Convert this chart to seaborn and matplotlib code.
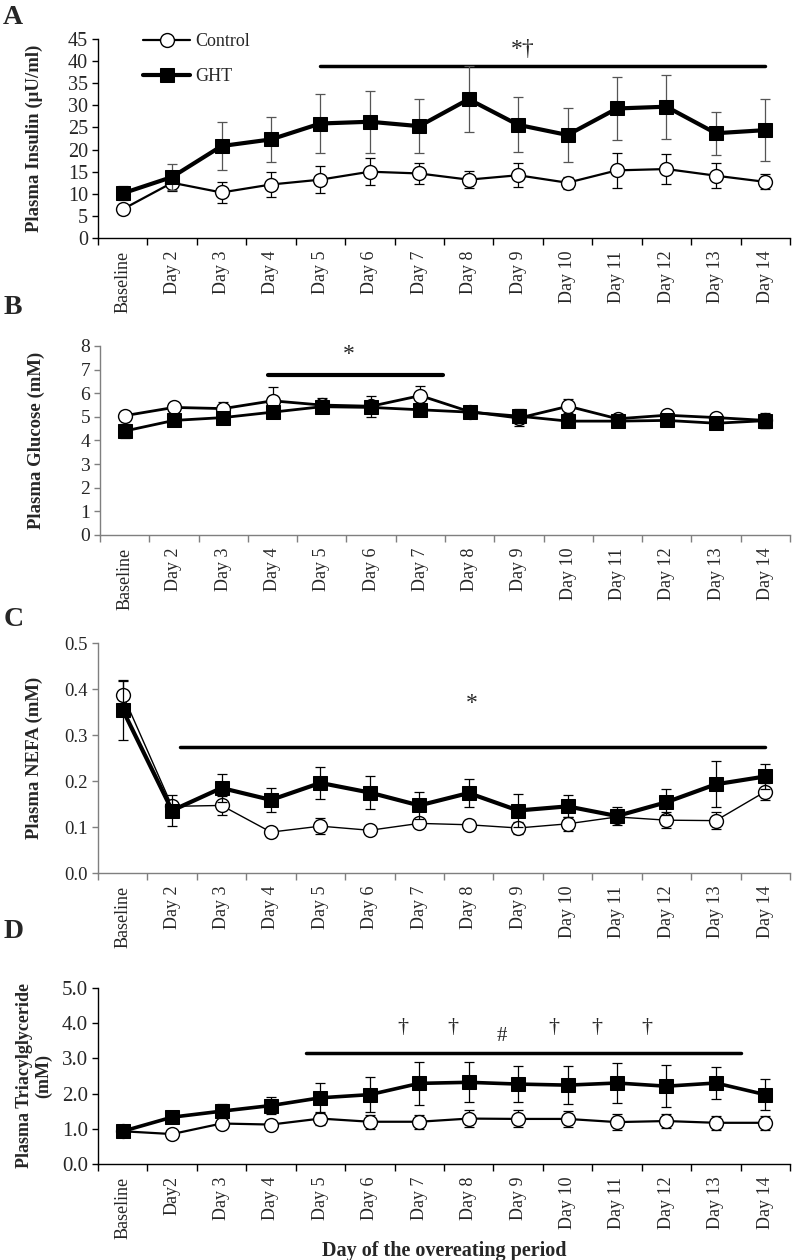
import numpy as np
import pandas as pd
import matplotlib
matplotlib.use('Agg')
import matplotlib.pyplot as plt
import seaborn as sns

# x categories
days = ['Baseline', 'Day 2', 'Day 3', 'Day 4', 'Day 5', 'Day 6', 'Day 7',
        'Day 8', 'Day 9', 'Day 10', 'Day 11', 'Day 12', 'Day 13', 'Day 14']
days_d = ['Baseline', 'Day2', 'Day 3', 'Day 4', 'Day 5', 'Day 6', 'Day 7',
          'Day 8', 'Day 9', 'Day 10', 'Day 11', 'Day 12', 'Day 13', 'Day 14']

# A - insulin (uU/ml)
ins_ctrl = [6.5, 12.5, 10.3, 12.1, 13.2, 15.0, 14.6, 13.2, 14.2, 12.5, 15.3, 15.6, 14.1, 12.7]
ins_ctrl_se = [1.0, 1.8, 2.3, 2.9, 3.1, 3.1, 2.3, 2.0, 2.7, 1.4, 4.0, 3.3, 2.9, 1.7]
ins_ght = [10.1, 13.8, 20.8, 22.3, 25.9, 26.3, 25.3, 31.4, 25.6, 23.3, 29.3, 29.7, 23.7, 24.4]
ins_ght_se = [1.6, 2.9, 5.5, 5.0, 6.6, 7.0, 6.1, 7.4, 6.2, 6.2, 7.2, 7.2, 4.9, 7.0]

# B - glucose (mM)
glu_ctrl = [5.05, 5.4, 5.35, 5.68, 5.5, 5.45, 5.9, 5.22, 4.95, 5.45, 4.92, 5.07, 4.97, 4.85]
glu_ctrl_se = [0.2, 0.15, 0.3, 0.6, 0.3, 0.45, 0.4, 0.2, 0.35, 0.3, 0.1, 0.12, 0.1, 0.3]
glu_ght = [4.4, 4.85, 4.97, 5.2, 5.43, 5.4, 5.3, 5.2, 5.03, 4.82, 4.82, 4.85, 4.73, 4.84]
glu_ght_se = [0.3, 0.2, 0.15, 0.25, 0.2, 0.2, 0.15, 0.15, 0.3, 0.15, 0.15, 0.15, 0.15, 0.3]

# C - NEFA (mM)
nefa_ctrl = [0.388, 0.145, 0.147, 0.089, 0.102, 0.093, 0.108, 0.105, 0.098, 0.107, 0.122, 0.115, 0.114, 0.177]
nefa_ctrl_se = [0.03, 0.012, 0.02, 0.01, 0.018, 0.006, 0.01, 0.01, 0.013, 0.015, 0.01, 0.017, 0.018, 0.018]
nefa_ght = [0.355, 0.136, 0.185, 0.159, 0.196, 0.175, 0.147, 0.174, 0.136, 0.145, 0.124, 0.154, 0.193, 0.21]
nefa_ght_se = [0.065, 0.033, 0.03, 0.027, 0.035, 0.035, 0.029, 0.03, 0.035, 0.024, 0.02, 0.028, 0.05, 0.028]

# D - triacylglyceride (mM)
tag_ctrl = [0.93, 0.85, 1.15, 1.12, 1.29, 1.2, 1.2, 1.29, 1.28, 1.28, 1.19, 1.22, 1.17, 1.17]
tag_ctrl_se = [0.08, 0.08, 0.12, 0.12, 0.18, 0.2, 0.2, 0.23, 0.24, 0.23, 0.22, 0.2, 0.2, 0.2]
tag_ght = [0.93, 1.33, 1.5, 1.66, 1.88, 1.97, 2.29, 2.32, 2.27, 2.24, 2.3, 2.21, 2.3, 1.97]
tag_ght_se = [0.1, 0.1, 0.2, 0.25, 0.43, 0.49, 0.62, 0.57, 0.5, 0.55, 0.57, 0.6, 0.46, 0.43]

sns.set_theme(style='ticks')
plt.rcParams['font.family'] = ['Liberation Serif', 'DejaVu Serif']

fig = plt.figure(figsize=(7.92, 12.6), dpi=100)

x = np.arange(len(days))


def draw_panel(ax, ctrl, ctrl_se, ght, ght_se, labels, axcol, lw_c, lw_g,
               ecol_g='black', ysize=13.5):
    ax.errorbar(x, ctrl, yerr=ctrl_se, fmt='none', ecolor='black', elinewidth=0.9,
                capsize=3.5, capthick=0.9, zorder=2)
    sns.lineplot(x=x, y=ctrl, ax=ax, color='black', linewidth=lw_c, marker='o',
                 markersize=10, markerfacecolor='white', markeredgecolor='black',
                 markeredgewidth=1.0, label='Control', zorder=3, legend=False)
    ax.errorbar(x, ght, yerr=ght_se, fmt='none', ecolor=ecol_g, elinewidth=0.9,
                capsize=3.5, capthick=0.9, zorder=4)
    sns.lineplot(x=x, y=ght, ax=ax, color='black', linewidth=lw_g, marker='s',
                 markersize=10, markerfacecolor='black', markeredgecolor='black',
                 label='GHT', zorder=5, legend=False)
    ax.set_xlim(-0.5, len(x) - 0.5)
    ax.set_xticks(x)
    ax.set_xticklabels(labels, rotation=90, fontsize=13)
    ax.set_xticks(np.arange(-0.5, len(x), 1.0), minor=True)
    ax.tick_params(axis='x', which='major', length=0, pad=9)
    ax.tick_params(axis='x', which='minor', length=5, width=1, color=axcol, direction='out')
    ax.tick_params(axis='y', length=4, width=1, color=axcol, direction='out',
                   labelsize=ysize, pad=3)
    for s in ['top', 'right']:
        ax.spines[s].set_visible(False)
    for s in ['left', 'bottom']:
        ax.spines[s].set_color(axcol)
        ax.spines[s].set_linewidth(1.0)
    ax.set_xlabel('')
    ax.yaxis.set_label_coords(-0.08, 0.5)


# Panel A
axA = fig.add_axes([0.1237, 0.8111, 0.8737, 0.1579])
draw_panel(axA, ins_ctrl, ins_ctrl_se, ins_ght, ins_ght_se, days, 'black', 1.6, 3.0,
           '#555555', ysize=14.5)
axA.set_ylim(0, 45)
axA.set_yticks(np.arange(0, 46, 5))
axA.set_ylabel('Plasma Insulin (μU/ml)', fontsize=13.5, fontweight='bold')
axA.plot([4, 13], [39, 39], color='black', lw=2.5)
axA.text(8.1, 40.2, '*†', ha='center', va='bottom', fontsize=17)
axA.legend(loc='upper left', bbox_to_anchor=(0.055, 1.065), frameon=False, fontsize=13,
           handlelength=2.6, labelspacing=1.0, handletextpad=0.3, borderaxespad=0)

# Panel B
axB = fig.add_axes([0.1263, 0.5754, 0.8712, 0.15])
draw_panel(axB, glu_ctrl, glu_ctrl_se, glu_ght, glu_ght_se, days, '#7f7f7f', 2.0, 2.0,
           ysize=14)
axB.set_ylim(0, 8)
axB.set_yticks(np.arange(0, 9, 1))
axB.set_ylabel('Plasma Glucose (mM)', fontsize=13.5, fontweight='bold')
axB.plot([2.9, 6.45], [6.77, 6.77], color='black', lw=3)
axB.text(4.55, 7.2, '*', ha='center', va='bottom', fontsize=17)

# Panel C
axC = fig.add_axes([0.1237, 0.3071, 0.8737, 0.1825])
draw_panel(axC, nefa_ctrl, nefa_ctrl_se, nefa_ght, nefa_ght_se, days, '#7f7f7f', 1.0, 3.0,
           ysize=13.5)
axC.set_ylim(0, 0.5)
axC.set_yticks(np.arange(0, 0.51, 0.1))
axC.set_yticklabels(['%.1f' % v for v in np.arange(0, 0.51, 0.1)])
axC.set_ylabel('Plasma NEFA (mM)', fontsize=13.5, fontweight='bold')
axC.plot([1.15, 13.0], [0.275, 0.275], color='black', lw=2.5)
axC.text(7.07, 0.345, '*', ha='center', va='bottom', fontsize=17)

# Panel D
axD = fig.add_axes([0.1237, 0.0762, 0.8737, 0.1397])
draw_panel(axD, tag_ctrl, tag_ctrl_se, tag_ght, tag_ght_se, days_d, 'black', 1.6, 2.6,
           ysize=15)
axD.set_ylim(0, 5)
axD.set_yticks(np.arange(0, 5.1, 1))
axD.set_yticklabels(['%.1f' % v for v in np.arange(0, 5.1, 1)])
axD.set_ylabel('Plasma Triacylglyceride\n(mM)', fontsize=13, fontweight='bold', linespacing=1.15)
axD.yaxis.set_label_coords(-0.066, 0.5)
axD.plot([3.7, 12.5], [3.14, 3.14], color='black', lw=2.5)
axD.text(7.68, 3.35, '#', ha='center', va='bottom', fontsize=15)
for xd in [5.67, 6.68, 8.73, 9.6, 10.6]:
    axD.text(xd, 3.6, '†', ha='center', va='bottom', fontsize=16)
axD.set_xlabel('Day of the overeating period', fontsize=14.5, fontweight='bold', labelpad=2)

# panel letters
for lab, yy in [('A', 17), ('B', 308), ('C', 620), ('D', 932)]:
    fig.text(0.004, 1 - yy / 1260, lab, fontsize=20, fontweight='bold', va='center', ha='left')

fig.savefig('out.png', dpi=100)
